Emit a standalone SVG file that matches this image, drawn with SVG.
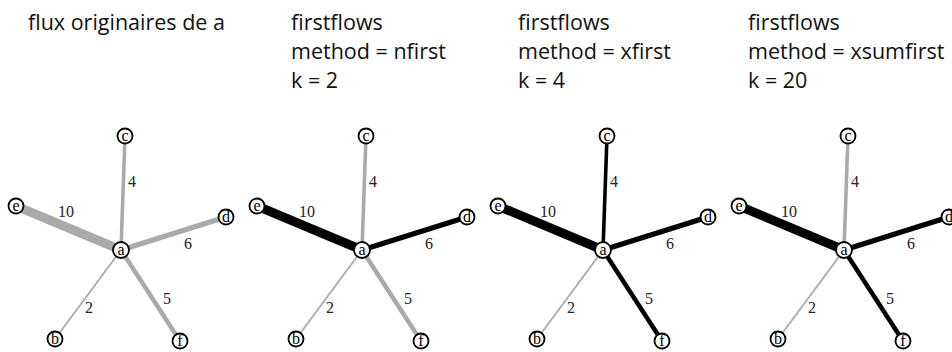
<svg xmlns="http://www.w3.org/2000/svg" width="952" height="352" viewBox="0 0 952 352">
<style>
.hd{font-family:"Open Sans","Liberation Sans",sans-serif;font-size:21.5px;fill:#111}
.e{stroke-linecap:butt;fill:none}
.g{stroke:#aaaaaa}
.k{stroke:#000}
.n circle{fill:#fff;stroke:#000;stroke-width:1.8}
.n text{font-family:"Liberation Serif",serif;font-size:16px;text-anchor:middle;fill:#000}
.lb{font-family:"Liberation Serif",serif;font-size:16px;text-anchor:middle;fill:#222}
</style>
<rect width="952" height="352" fill="#fff"/>
<g id="headers">
<text class="hd" x="28" y="30">flux originaires de a</text>
<text class="hd" x="291" y="30">firstflows</text>
<text class="hd" x="291" y="59">method = nfirst</text>
<text class="hd" x="291" y="88">k = 2</text>
<text class="hd" x="518" y="30">firstflows</text>
<text class="hd" x="518" y="59">method = xfirst</text>
<text class="hd" x="518" y="88">k = 4</text>
<text class="hd" x="748" y="30">firstflows</text>
<text class="hd" x="748" y="59">method = xsumfirst</text>
<text class="hd" x="748" y="88">k = 20</text>
</g>
<defs>
<g id="nodes">
<g class="n"><circle cx="125" cy="136" r="7.5"/><text x="125" y="141">c</text></g>
<g class="n"><circle cx="16" cy="206" r="7.5"/><text x="16" y="211">e</text></g>
<g class="n"><circle cx="226" cy="217" r="7.5"/><text x="226" y="222">d</text></g>
<g class="n"><circle cx="55" cy="339" r="7.5"/><text x="55" y="344">b</text></g>
<g class="n"><circle cx="180" cy="341" r="7.5"/><text x="180" y="346">f</text></g>
<g class="n"><circle cx="121" cy="250" r="8"/><text x="121" y="255">a</text></g>
</g>
<g id="labels">
<text class="lb" x="132" y="187">4</text>
<text class="lb" x="66" y="217">10</text>
<text class="lb" x="188" y="249">6</text>
<text class="lb" x="89" y="313">2</text>
<text class="lb" x="167" y="304">5</text>
</g>
</defs>
<g id="panel1">
<g id="p1-connectors">
<line class="e g" x1="121" y1="250" x2="125" y2="136" stroke-width="3.6"/>
<line class="e g" x1="121" y1="250" x2="16" y2="206" stroke-width="9"/>
<line class="e g" x1="121" y1="250" x2="226" y2="217" stroke-width="5.4"/>
<line class="e g" x1="121" y1="250" x2="55" y2="339" stroke-width="1.8"/>
<line class="e g" x1="121" y1="250" x2="180" y2="341" stroke-width="4.5"/>
</g>
<use href="#labels"/>
<g id="p1-nodes"><use href="#nodes"/></g>
</g>
<g id="panel2" transform="translate(241,0)">
<g id="p2-connectors">
<line class="e g" x1="121" y1="250" x2="125" y2="136" stroke-width="3.6"/>
<line class="e k" x1="121" y1="250" x2="16" y2="206" stroke-width="9"/>
<line class="e k" x1="121" y1="250" x2="226" y2="217" stroke-width="5.4"/>
<line class="e g" x1="121" y1="250" x2="55" y2="339" stroke-width="1.8"/>
<line class="e g" x1="121" y1="250" x2="180" y2="341" stroke-width="4.5"/>
</g>
<use href="#labels"/>
<g id="p2-nodes"><use href="#nodes"/></g>
</g>
<g id="panel3" transform="translate(482,0)">
<g id="p3-connectors">
<line class="e k" x1="121" y1="250" x2="125" y2="136" stroke-width="3.6"/>
<line class="e k" x1="121" y1="250" x2="16" y2="206" stroke-width="9"/>
<line class="e k" x1="121" y1="250" x2="226" y2="217" stroke-width="5.4"/>
<line class="e g" x1="121" y1="250" x2="55" y2="339" stroke-width="1.8"/>
<line class="e k" x1="121" y1="250" x2="180" y2="341" stroke-width="4.5"/>
</g>
<use href="#labels"/>
<g id="p3-nodes"><use href="#nodes"/></g>
</g>
<g id="panel4" transform="translate(723,0)">
<g id="p4-connectors">
<line class="e g" x1="121" y1="250" x2="125" y2="136" stroke-width="3.6"/>
<line class="e k" x1="121" y1="250" x2="16" y2="206" stroke-width="9"/>
<line class="e k" x1="121" y1="250" x2="226" y2="217" stroke-width="5.4"/>
<line class="e g" x1="121" y1="250" x2="55" y2="339" stroke-width="1.8"/>
<line class="e k" x1="121" y1="250" x2="180" y2="341" stroke-width="4.5"/>
</g>
<use href="#labels"/>
<g id="p4-nodes"><use href="#nodes"/></g>
</g>
</svg>
